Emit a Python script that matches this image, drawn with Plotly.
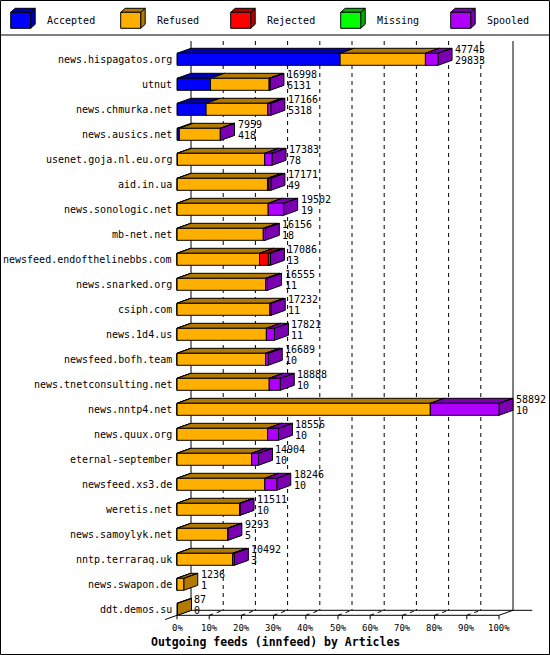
import plotly.graph_objects as go

# innfeed outgoing feeds
servers = [
    "news.hispagatos.org", "utnut", "news.chmurka.net", "news.ausics.net",
    "usenet.goja.nl.eu.org", "aid.in.ua", "news.sonologic.net", "mb-net.net",
    "newsfeed.endofthelinebbs.com", "news.snarked.org", "csiph.com",
    "news.1d4.us", "newsfeed.bofh.team", "news.tnetconsulting.net",
    "news.nntp4.net", "news.quux.org", "eternal-september", "newsfeed.xs3.de",
    "weretis.net", "news.samoylyk.net", "nntp.terraraq.uk", "news.swapon.de",
    "ddt.demos.su",
]
offered = [47745, 16998, 17166, 7959, 17383, 17171, 19502, 16156, 17086, 16555,
           17232, 17821, 16689, 18888, 58892, 18556, 14904, 18246, 11511, 9293,
           10492, 1236, 87]
accepted = [29833, 6131, 5318, 418, 78, 49, 19, 18, 13, 11, 11, 11, 10, 10, 10,
            10, 10, 10, 10, 5, 3, 1, 0]
refused = [15600, 10717, 11298, 7501, 15965, 16500, 16660, 15768, 15093, 16230,
           16981, 16336, 16179, 16855, 46317, 16567, 13651, 16065, 11451, 9248,
           10172, 1235, 87]
rejected = [0, 0, 0, 0, 0, 250, 0, 0, 1610, 0, 0, 0, 0, 0, 0, 0, 0, 0, 0, 0, 0, 0, 0]
missing = [0, 0, 0, 0, 0, 0, 0, 0, 0, 0, 0, 0, 0, 0, 0, 0, 0, 0, 0, 0, 0, 0, 0]
spooled = [2312, 150, 550, 40, 1340, 372, 2823, 370, 370, 314, 240, 1474, 500,
           2023, 12565, 1979, 1243, 2171, 50, 40, 317, 0, 0]

legend_names = ["Accepted", "Refused", "Rejected", "Missing", "Spooled"]
tick_labels = ["0%", "10%", "20%", "30%", "40%", "50%", "60%", "70%", "80%", "90%", "100%"]

front_colors = ["#0000FF", "#FFAF00", "#FF0000", "#00FF00", "#AF00FF"]
dark_colors = ["#0000B2", "#B27A00", "#B20000", "#00B200", "#7A00B2"]

FONT = "DejaVu Sans Mono"
W, H = 550, 655
X0_PX = 177        # pixel of 0 %
PX_PCT = 3.22      # pixels per percent
ROW0_PX = 59.3     # pixel of first row
PX_ROW = 25.0      # pixels per row
DX = 14 / PX_PCT   # bar depth, x
DY = 5 / PX_ROW    # bar depth, y
HALF = 6 / PX_ROW  # half bar height


def px_x(p):
    return p / W


def px_y(p):
    return 1 - p / H


series = [accepted, refused, rejected, missing, spooled]
n = len(servers)
top = max(sum(s[i] for s in series) for i in range(n))

fig = go.Figure()
for k, name in enumerate(legend_names):
    fx, fy, sx, sy = [], [], [], []
    for i in range(n):
        v = series[k][i]
        if v == 0:
            continue
        a = sum(series[j][i] for j in range(k)) / top * 100
        b = a + v / top * 100
        yt, yb = i - HALF, i + HALF
        fx += [a, b, b, a, a, None]
        fy += [yt, yt, yb, yb, yt, None]
        sx += [a, a + DX, b + DX, b, a, None, b, b + DX, b + DX, b, b, None]
        sy += [yt, yt - DY, yt - DY, yt, yt, None, yt, yt - DY, yb - DY, yb, yt, None]
    fig.add_trace(go.Scatter(x=sx, y=sy, mode="lines", fill="toself",
                             fillcolor=dark_colors[k], name=name,
                             line=dict(color="black", width=1), hoverinfo="skip"))
    fig.add_trace(go.Scatter(x=fx, y=fy, mode="lines", fill="toself",
                             fillcolor=front_colors[k], name=name,
                             line=dict(color="black", width=1), hoverinfo="skip"))

# back wall, floor and grid
wall_top = (41 - ROW0_PX) / PX_ROW
floor_front = n - 1 + HALF
floor_back = floor_front - DY
shapes = []
line = dict(color="black", width=1)
dash = dict(color="black", width=1, dash="4px,4px")
shapes.append(dict(type="line", x0=DX, x1=DX, y0=wall_top, y1=floor_back, line=line))
shapes.append(dict(type="line", x0=100 + DX, x1=100 + DX, y0=wall_top, y1=floor_back, line=line))
shapes.append(dict(type="line", x0=0, x1=100 + DX + 6, y0=floor_back, y1=floor_back, line=line))
shapes.append(dict(type="line", x0=0, x1=100, y0=floor_front, y1=floor_front, line=line))
shapes.append(dict(type="line", x0=100, x1=100 + DX, y0=floor_front, y1=floor_back, line=line))
shapes.append(dict(type="line", x0=-0.85 * DX, x1=DX, y0=floor_front + 0.85 * DY,
                   y1=floor_back, line=line))
for t in range(11):
    x = t * 10
    shapes.append(dict(type="line", x0=x, x1=x, y0=floor_front,
                       y1=floor_front + 4 / PX_ROW, line=line))
    if 0 < t < 10:
        shapes.append(dict(type="line", x0=x + DX, x1=x + DX, y0=wall_top,
                           y1=floor_back, line=dash))
        shapes.append(dict(type="line", x0=x, x1=x + DX, y0=floor_front,
                           y1=floor_back, line=dash))
for s in shapes:
    s.update(xref="x", yref="y", layer="below")

# frame and legend box
shapes.append(dict(type="rect", xref="paper", yref="paper", x0=px_x(0.5), x1=px_x(W - 0.5),
                   y0=px_y(0.5), y1=px_y(H - 0.5), line=line, layer="above"))
shapes.append(dict(type="line", xref="paper", yref="paper", x0=0, x1=1,
                   y0=px_y(35), y1=px_y(35), line=line, layer="above"))

annotations = []
for k, name in enumerate(legend_names):
    x0 = 10.7 + 110 * k
    fx0, fx1, fy0, fy1 = x0, x0 + 20, 12.3, 28.3
    d, e = 4.5, 4
    faces = [
        ([(fx0, fy0), (fx0 + d, fy0 - e), (fx1 + d, fy0 - e), (fx1, fy0)], dark_colors[k]),
        ([(fx1, fy0), (fx1 + d, fy0 - e), (fx1 + d, fy1 - e), (fx1, fy1)], dark_colors[k]),
        ([(fx0, fy0), (fx1, fy0), (fx1, fy1), (fx0, fy1)], front_colors[k]),
    ]
    for pts, col in faces:
        path = "M " + " L ".join(f"{px_x(px):.5f},{px_y(py):.5f}" for px, py in pts) + " Z"
        shapes.append(dict(type="path", xref="paper", yref="paper", path=path,
                           fillcolor=col, line=line, layer="above"))
    annotations.append(dict(xref="paper", yref="paper", x=px_x(x0 + 34), y=px_y(20.5),
                            text=name, showarrow=False, xanchor="left", yanchor="middle",
                            font=dict(family=FONT, size=10, color="black")))

# category labels and counts
for i, name in enumerate(servers):
    annotations.append(dict(x=0, y=i, text=name, showarrow=False, xanchor="right",
                            yanchor="middle", xshift=-3,
                            font=dict(family=FONT, size=10, color="black")))
    total = sum(s[i] for s in series) / top * 100
    annotations.append(dict(x=total + DX, y=i - 9.5 / PX_ROW, text=str(offered[i]),
                            showarrow=False, xanchor="left", yanchor="middle", xshift=1,
                            font=dict(family=FONT, size=10, color="black")))
    annotations.append(dict(x=total + DX, y=i + 1 / PX_ROW, text=str(accepted[i]),
                            showarrow=False, xanchor="left", yanchor="middle", xshift=1,
                            font=dict(family=FONT, size=10, color="black")))

for t, lab in enumerate(tick_labels):
    annotations.append(dict(x=t * 10, y=(628 - ROW0_PX) / PX_ROW, text=lab,
                            showarrow=False, xanchor="center", yanchor="middle",
                            font=dict(family=FONT, size=9, color="black")))

annotations.append(dict(xref="paper", yref="paper", x=0.5, y=px_y(641.5),
                        text="<b>Outgoing feeds (innfeed) by Articles</b>", showarrow=False,
                        xanchor="center", yanchor="middle",
                        font=dict(family=FONT, size=11.5, color="black")))

fig.update_layout(
    width=W, height=H,
    margin=dict(l=0, r=0, t=0, b=0),
    paper_bgcolor="white", plot_bgcolor="white",
    showlegend=False, hovermode=False,
    xaxis=dict(range=[-X0_PX / PX_PCT, (W - X0_PX) / PX_PCT], visible=False, fixedrange=True),
    yaxis=dict(range=[(H - ROW0_PX) / PX_ROW, -ROW0_PX / PX_ROW], visible=False, fixedrange=True),
    shapes=shapes,
    annotations=annotations,
)

# page body has a default margin, drop it so the chart fills the window
fig.write_html("out.html", config={"displayModeBar": False},
               post_script="document.body.style.margin='0';")
